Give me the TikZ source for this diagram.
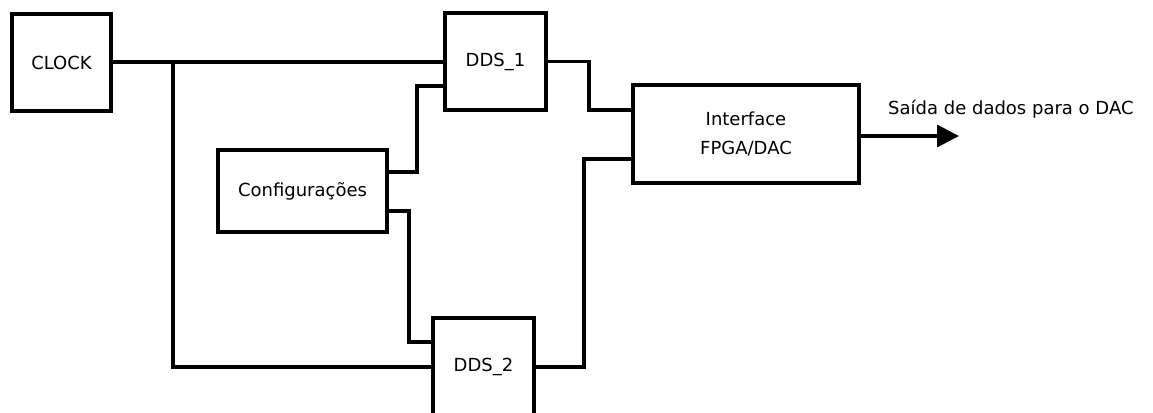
\documentclass[tikz,border=0pt]{standalone}
\usepackage{fontspec}
\setmainfont{DejaVu Sans}
\usetikzlibrary{arrows.meta}
\begin{document}
\begin{tikzpicture}[x=1pt,y=-1pt,
  blk/.style={draw=black,line width=3.6pt,fill=white,inner sep=0pt,align=center,
    font=\fontsize{18}{29}\selectfont},
  wire/.style={draw=black,line width=3.2pt}]
\useasboundingbox (0,0) rectangle (1153,412);
\node[blk,minimum width=99pt,minimum height=97pt] (clock) at (61.5,62.5) {CLOCK};
\node[blk,minimum width=101pt,minimum height=97pt] (dds1) at (495.5,61.5) {DDS\_1};
\node[blk,minimum width=226pt,minimum height=98pt] (iface) at (746,134) {Interface\\FPGA/DAC};
\node[blk,minimum width=169pt,minimum height=82pt] (cfg) at (302.5,191) {Configurações};
\node[blk,minimum width=101pt,minimum height=98pt] (dds2) at (483.5,367) {DDS\_2};
\coordinate (j) at (173,62);
\coordinate (c1) at (417,86);
\coordinate (c2) at (409,342);
\coordinate (c3) at (589,110);
\coordinate (c4) at (584,159);
\coordinate (out) at (959,136);
\draw[wire] (clock.east |- j) -- (j -| dds1.west);
\draw[wire] (j) |- (dds2.west);
\draw[wire] ([yshift=19pt]cfg.east) -| (c1) -- (c1 -| dds1.west);
\draw[wire] ([yshift=-20pt]cfg.east) -| (c2) -- (c2 -| dds2.west);
\draw[wire] (dds1.east) -| (c3) -- (c3 -| iface.west);
\draw[wire] (dds2.east) -| (c4) -- (c4 -| iface.west);
\draw[wire,-{Triangle[length=22pt,width=22pt]}] (iface.east |- out) -- (out);
\node[anchor=base west,inner sep=0pt,font=\fontsize{18}{24}\selectfont] (lbl) at (888,114) {Saída de dados para o DAC};
\end{tikzpicture}
\end{document}
